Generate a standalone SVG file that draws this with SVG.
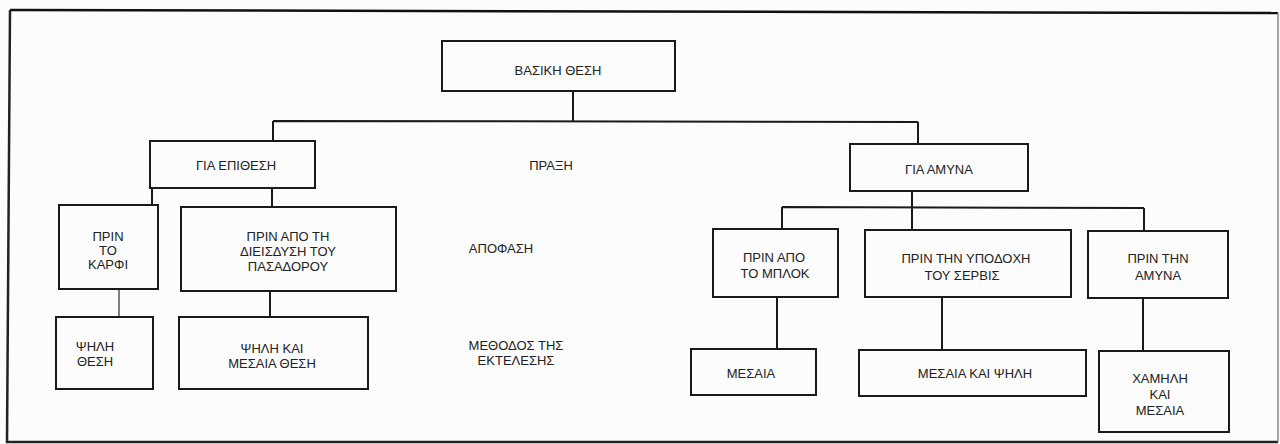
<svg xmlns="http://www.w3.org/2000/svg" width="1280" height="444" viewBox="0 0 1280 444">
<style>
.box{fill:none;stroke:#1a1a1a;stroke-width:2}
.ln{fill:none;stroke:#1a1a1a;stroke-width:2}
.thin{fill:none;stroke:#555;stroke-width:1.5}
text{font-family:"Liberation Sans","DejaVu Sans",sans-serif;font-size:13px;fill:#222;text-anchor:middle;dominant-baseline:central}
</style>
<rect x="0" y="0" width="1280" height="444" fill="#fcfcfc"/>
<path d="M10 10 L1278 13" stroke="#111" stroke-width="2.5" fill="none"/>
<path d="M10 10 L7 442 L1278 442" stroke="#222" stroke-width="2.5" fill="none"/>
<path d="M1278 13 L1278 442" stroke="#888" stroke-width="1.5" fill="none"/>

<g id="connectors">
<path class="ln" d="M573 91 V121.5 M273 121 L918 122 M273 121 V141 M918 122 V144"/>
<path class="ln" d="M152 188 V205 M272 188 V207 M270 291 V317"/>
<path class="thin" d="M119 289 V317"/>
<path class="ln" d="M912 191 V230 M782 207 L1144 208 M782 207 V229 M1144 208 V231"/>
<path class="ln" d="M777 297 V349 M942 297 V350 M1143 298 V351"/>
</g>

<g id="root"><rect class="box" x="442" y="41" width="233" height="50"/><text x="558" y="70">ΒΑΣΙΚΗ ΘΕΣΗ</text></g>
<g id="attack"><rect class="box" x="150" y="141" width="165" height="47"/><text x="236" y="165">ΓΙΑ ΕΠΙΘΕΣΗ</text></g>
<g id="defense"><rect class="box" x="850" y="144" width="178" height="47"/><text x="939" y="169">ΓΙΑ ΑΜΥΝΑ</text></g>

<g id="before-spike"><rect class="box" x="59" y="205" width="99" height="84"/><text x="108" y="236">ΠΡΙΝ</text><text x="108" y="250">ΤΟ</text><text x="108" y="264">ΚΑΡΦΙ</text></g>
<g id="before-setter"><rect class="box" x="181" y="207" width="215" height="84"/><text x="288" y="236">ΠΡΙΝ ΑΠΟ ΤΗ</text><text x="288" y="251">ΔΙΕΙΣΔΥΣΗ ΤΟΥ</text><text x="288" y="266">ΠΑΣΑΔΟΡΟΥ</text></g>
<g id="high-pos"><rect class="box" x="56" y="317" width="97" height="72"/><text x="95" y="346">ΨΗΛΗ</text><text x="95" y="361">ΘΕΣΗ</text></g>
<g id="high-mid-pos"><rect class="box" x="179" y="317" width="189" height="72"/><text x="272" y="348">ΨΗΛΗ ΚΑΙ</text><text x="272" y="363">ΜΕΣΑΙΑ ΘΕΣΗ</text></g>

<g id="before-block"><rect class="box" x="713" y="229" width="125" height="68"/><text x="774" y="257">ΠΡΙΝ ΑΠΟ</text><text x="775" y="273">ΤΟ ΜΠΛΟΚ</text></g>
<g id="before-serve"><rect class="box" x="865" y="230" width="206" height="67"/><text x="966" y="258">ΠΡΙΝ ΤΗΝ ΥΠΟΔΟΧΗ</text><text x="962" y="275">ΤΟΥ ΣΕΡΒΙΣ</text></g>
<g id="before-defense"><rect class="box" x="1088" y="231" width="140" height="67"/><text x="1158" y="258">ΠΡΙΝ ΤΗΝ</text><text x="1158" y="275">ΑΜΥΝΑ</text></g>
<g id="mid"><rect class="box" x="691" y="349" width="125" height="46"/><text x="751" y="373">ΜΕΣΑΙΑ</text></g>
<g id="mid-high"><rect class="box" x="859" y="350" width="227" height="46"/><text x="975" y="373">ΜΕΣΑΙΑ ΚΑΙ ΨΗΛΗ</text></g>
<g id="low-mid"><rect class="box" x="1099" y="351" width="130" height="81"/><text x="1160" y="378">ΧΑΜΗΛΗ</text><text x="1160" y="394">ΚΑΙ</text><text x="1160" y="410">ΜΕΣΑΙΑ</text></g>

<g id="labels">
<text x="551" y="165">ΠΡΑΞΗ</text>
<text x="501" y="248">ΑΠΟΦΑΣΗ</text>
<text x="516" y="345">ΜΕΘΟΔΟΣ ΤΗΣ</text>
<text x="516" y="360">ΕΚΤΕΛΕΣΗΣ</text>
</g>
</svg>
